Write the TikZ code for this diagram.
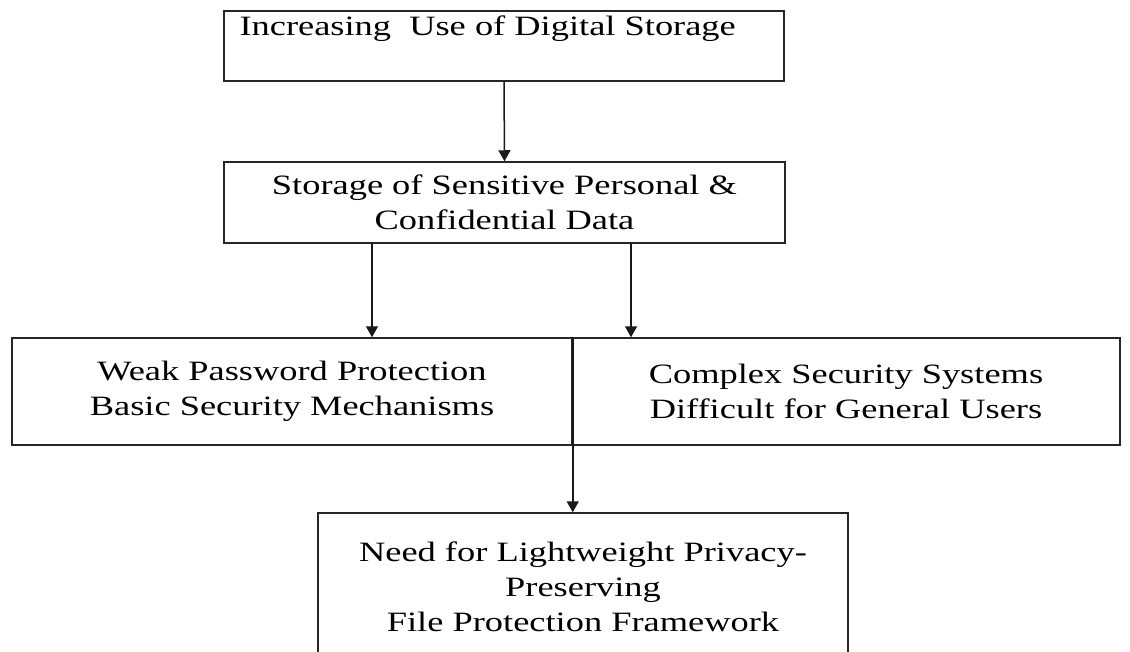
\documentclass[tikz,border=0pt]{standalone}
\usepackage{fontspec}
\setmainfont[FakeStretch=1.3]{Liberation Serif}
\usetikzlibrary{arrows.meta}
\begin{document}
\begin{tikzpicture}[x=1pt,y=-1pt,
  box/.style={draw=black!85, line width=1.5pt, inner sep=0pt},
  lbl/.style={font=\fontsize{28}{35}\selectfont, align=center},
  arr/.style={draw=black!90, line width=1.5pt, -{Triangle[length=11pt,width=12pt]}}]
\useasboundingbox (0,0) rectangle (1130,651);
\fill[white] (0,0) rectangle (1130,651);

% top box, text set in its upper part
\node[box, minimum width=560, minimum height=70] (top) at (504,46) {};
\node[lbl, anchor=west] (toptext) at (236,29) {Increasing\ \ Use of Digital Storage};

% sensitive data box
\node[box, lbl, minimum width=561, minimum height=81] (data) at (504.5,202.5)
  {Storage of Sensitive Personal \&\\Confidential Data};

% two problem boxes sharing one frame
\node[box, lbl, minimum width=560, minimum height=107] (weak) at (292,391.5)
  {Weak Password Protection\\Basic Security Mechanisms};
\node[box, lbl, minimum width=548, minimum height=107] (complex) at (846,391.5)
  {Complex Security Systems\\Difficult for General Users};

% resulting need
\node[box, lbl, minimum width=530, minimum height=148] (need) at (583,587)
  {Need for Lightweight Privacy-\\Preserving\\File Protection Framework};

% connectors
\draw[arr] (top.south) -- (data.north);
\coordinate (d1) at (372,243);
\coordinate (d2) at (631,243);
\draw[arr] (d1) -- (d1 |- weak.north);
\draw[arr] (d2) -- (d2 |- complex.north);
\draw[arr] (weak.north east) -- (weak.north east |- need.north);
\end{tikzpicture}
\end{document}
